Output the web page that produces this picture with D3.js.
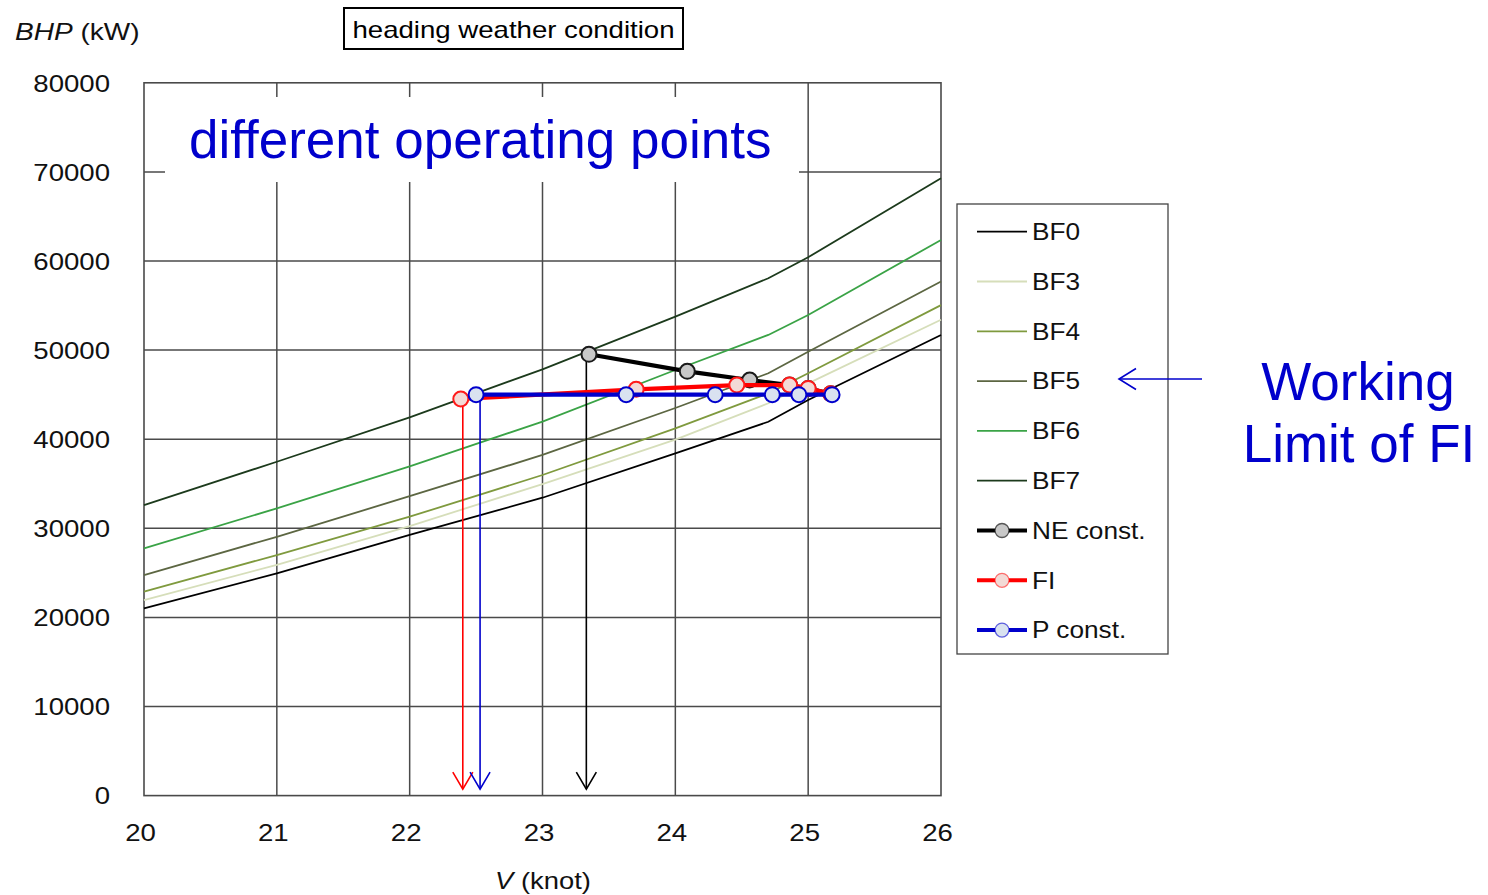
<!DOCTYPE html>
<html>
<head>
<meta charset="utf-8">
<script src="https://cdn.jsdelivr.net/npm/d3@7"></script>
<style>
  body { margin: 0; background: #fff; }
  svg { display: block; }
</style>
</head>
<body>
<svg id="chart" width="1488" height="895"></svg>
<script>
// Speed grid (knot) at which the power curves are tabulated
const speeds = [20, 21, 22, 23, 24, 24.7, 25, 26];

// Brake horsepower (kW) per Beaufort condition, heading weather
const bf0 = [21000, 24950, 29250, 33430, 38420, 41960, 44400, 51700];
const bf3 = [21950, 25900, 30250, 34970, 39950, 44030, 46270, 53400];
const bf4 = [22900, 27000, 31300, 35980, 41220, 45150, 47400, 55050];
const bf5 = [24750, 29050, 33600, 38230, 43500, 47400, 49820, 57700];
const bf6 = [27750, 32240, 36950, 41980, 47770, 51700, 53940, 62360];
const bf7 = [32600, 37470, 42460, 47840, 53750, 58060, 60420, 69280];

const curveNames = ["BF0", "BF3", "BF4", "BF5", "BF6", "BF7"];
const curveValues = [bf0, bf3, bf4, bf5, bf6, bf7];
const curveColors = ["#000000", "#d6deba", "#7f9a3e", "#5c6642", "#3aa346", "#1c3a1c"];

// Operating points, ordered BF7, BF6, BF5, BF4, BF3, BF0
const neSpeed = [23.35, 24.09, 24.56, 24.86, 25.0, 25.17];
const neBhp   = [49530, 47620, 46640, 46080, 45700, 45100];
const fiSpeed = [22.385, 23.705, 24.463, 24.86, 25.0, 25.17];
const fiBhp   = [44510, 45600, 46080, 46080, 45700, 45100];
const pSpeed  = [22.5, 23.63, 24.30, 24.73, 24.93, 25.18];
const pBhp    = [45000, 45000, 45000, 45000, 45000, 45000];

// Speeds reached under BF7 for each control mode (drop arrows)
const dropSpeeds = [22.40, 22.53, 23.33];
const dropBhp    = [44510, 45000, 49530];
const dropColors = ["#ff0000", "#0000cc", "#000000"];

const xTicks = [20, 21, 22, 23, 24, 25, 26];
const yTicks = [0, 10000, 20000, 30000, 40000, 50000, 60000, 70000, 80000];

const FONT = "'Liberation Sans', Arial, Helvetica, sans-serif";
const SX = 1.2; // horizontal stretch of the chart lettering

const svg = d3.select("#chart");
svg.append("rect").attr("width", 1488).attr("height", 895).attr("fill", "#fff");

const x = d3.scaleLinear().domain([20, 26]).range([144, 941]);
const y = d3.scaleLinear().domain([0, 80000]).range([795.6, 82.8]);

// Grid
const grid = svg.append("g").attr("stroke", "#4a4a4a").attr("stroke-width", 1.5);
grid.selectAll("line.v").data(xTicks.slice(1, -1)).join("line")
  .attr("x1", d => x(d)).attr("x2", d => x(d))
  .attr("y1", y(0)).attr("y2", y(80000));
grid.selectAll("line.h").data(yTicks.slice(1, -1)).join("line")
  .attr("class", "h")
  .attr("x1", x(20)).attr("x2", x(26))
  .attr("y1", d => y(d)).attr("y2", d => y(d));
svg.append("rect")
  .attr("x", x(20)).attr("y", y(80000))
  .attr("width", x(26) - x(20)).attr("height", y(0) - y(80000))
  .attr("fill", "none").attr("stroke", "#4a4a4a").attr("stroke-width", 1.6);

// Banner text on a white patch inside the plot
svg.append("rect").attr("x", 165).attr("y", 97).attr("width", 634).attr("height", 85).attr("fill", "#fff");
svg.append("text").attr("x", 189).attr("y", 158)
  .attr("font-family", FONT).attr("font-size", 53).attr("fill", "#0000cc")
  .text("different operating points");

// Axes (labels only)
const xAxis = svg.append("g").attr("transform", `translate(0,${y(0)})`)
  .call(d3.axisBottom(x).tickValues(xTicks).tickSize(0).tickFormat(d3.format("d")));
xAxis.select(".domain").remove();
xAxis.selectAll("text")
  .attr("y", null).attr("dy", null)
  .attr("transform", `translate(-4,45) scale(${SX},1)`)
  .attr("font-family", FONT).attr("font-size", 23).attr("fill", "#111");

const yAxis = svg.append("g").attr("transform", `translate(${x(20)},0)`)
  .call(d3.axisLeft(y).tickValues(yTicks).tickSize(0).tickFormat(d3.format("d")));
yAxis.select(".domain").remove();
yAxis.selectAll("text")
  .attr("x", null).attr("dy", null)
  .attr("transform", `translate(-34,8.2) scale(${SX},1)`)
  .attr("font-family", FONT).attr("font-size", 23).attr("fill", "#111");

// Axis titles
const yTitle = svg.append("text")
  .attr("transform", `translate(15,40) scale(1.22,1)`)
  .attr("font-family", FONT).attr("font-size", 23).attr("fill", "#111");
yTitle.append("tspan").attr("font-style", "italic").text("BHP");
yTitle.append("tspan").text(" (kW)");

const xTitle = svg.append("text")
  .attr("transform", `translate(543,889) scale(1.19,1)`)
  .attr("text-anchor", "middle")
  .attr("font-family", FONT).attr("font-size", 23).attr("fill", "#111");
xTitle.append("tspan").attr("font-style", "italic").text("V");
xTitle.append("tspan").text(" (knot)");

// Title box
svg.append("rect").attr("x", 344).attr("y", 8).attr("width", 339).attr("height", 41)
  .attr("fill", "#fff").attr("stroke", "#000").attr("stroke-width", 2);
svg.append("text")
  .attr("transform", `translate(513.5,38) scale(1.2,1)`)
  .attr("text-anchor", "middle")
  .attr("font-family", FONT).attr("font-size", 23).attr("fill", "#000")
  .text("heading weather condition");

// Power curves
const line = d3.line().x(d => x(d[0])).y(d => y(d[1]));
curveValues.forEach((vals, i) => {
  svg.append("path")
    .datum(speeds.map((s, j) => [s, vals[j]]))
    .attr("d", line)
    .attr("fill", "none")
    .attr("stroke", curveColors[i])
    .attr("stroke-width", 1.8);
});

// Drop arrows to the speed axis
dropSpeeds.forEach((s, i) => {
  const g = svg.append("g").attr("stroke", dropColors[i]).attr("stroke-width", 1.6).attr("fill", "none");
  const tip = y(0) - 6.5;
  g.append("line").attr("x1", x(s)).attr("x2", x(s)).attr("y1", y(dropBhp[i])).attr("y2", tip);
  g.append("polyline").attr("points", `${x(s) - 10},${tip - 17} ${x(s)},${tip} ${x(s) + 10},${tip - 17}`);
});

// Operating point series
const opSeries = [
  { name: "NE const.", sp: neSpeed, bhp: neBhp, line: "#000000", stroke: "#1a1a1a", fill: "#c8c8c8" },
  { name: "FI",        sp: fiSpeed, bhp: fiBhp, line: "#ff0000", stroke: "#ff1a1a", fill: "#f3dad6" },
  { name: "P const.",  sp: pSpeed,  bhp: pBhp,  line: "#0000cc", stroke: "#0000cc", fill: "#d9e2f0" }
];
opSeries.forEach(s => {
  const pts = s.sp.map((v, j) => [v, s.bhp[j]]);
  svg.append("path").datum(pts).attr("d", line)
    .attr("fill", "none").attr("stroke", s.line).attr("stroke-width", 4.2)
    .attr("stroke-linejoin", "round");
  svg.append("g").selectAll("circle").data(pts).join("circle")
    .attr("cx", d => x(d[0])).attr("cy", d => y(d[1])).attr("r", 7.5)
    .attr("fill", s.fill).attr("stroke", s.stroke).attr("stroke-width", 2);
});

// Legend
const legend = svg.append("g");
legend.append("rect").attr("x", 957).attr("y", 204).attr("width", 211).attr("height", 450)
  .attr("fill", "#fff").attr("stroke", "#444").attr("stroke-width", 1.3);
const legendItems = curveNames.map((n, i) => ({ name: n, color: curveColors[i], marker: null }))
  .concat(opSeries.map(s => ({ name: s.name, color: s.line, marker: s })));
legendItems.forEach((it, i) => {
  const ry = 231.7 + i * 49.8;
  legend.append("line").attr("x1", 977).attr("x2", 1027).attr("y1", ry).attr("y2", ry)
    .attr("stroke", it.color).attr("stroke-width", it.marker ? 4 : 1.8);
  if (it.marker) {
    legend.append("circle").attr("cx", 1002).attr("cy", ry).attr("r", 7)
      .attr("fill", it.marker.fill).attr("stroke", it.marker.stroke).attr("stroke-width", 1.3)
      .attr("stroke-opacity", it.name === "NE const." ? 0.7 : 0.6);
  }
  legend.append("text")
    .attr("transform", `translate(1032,${ry + 8.2}) scale(1.14,1)`)
    .attr("font-family", FONT).attr("font-size", 23).attr("fill", "#111")
    .text(it.name);
});

// Annotation pointing at the BF5 entry
const ann = svg.append("g").attr("stroke", "#0000cc").attr("stroke-width", 1.6).attr("fill", "none");
ann.append("line").attr("x1", 1202).attr("x2", 1119).attr("y1", 379).attr("y2", 379);
ann.append("polyline").attr("points", "1136,368.5 1119,379 1136,389.5");
svg.append("text").attr("x", 1358).attr("y", 400).attr("text-anchor", "middle")
  .attr("font-family", FONT).attr("font-size", 53).attr("fill", "#0000cc").text("Working");
svg.append("text").attr("x", 1359).attr("y", 462).attr("text-anchor", "middle")
  .attr("font-family", FONT).attr("font-size", 53).attr("fill", "#0000cc").text("Limit of FI");
</script>
</body>
</html>
